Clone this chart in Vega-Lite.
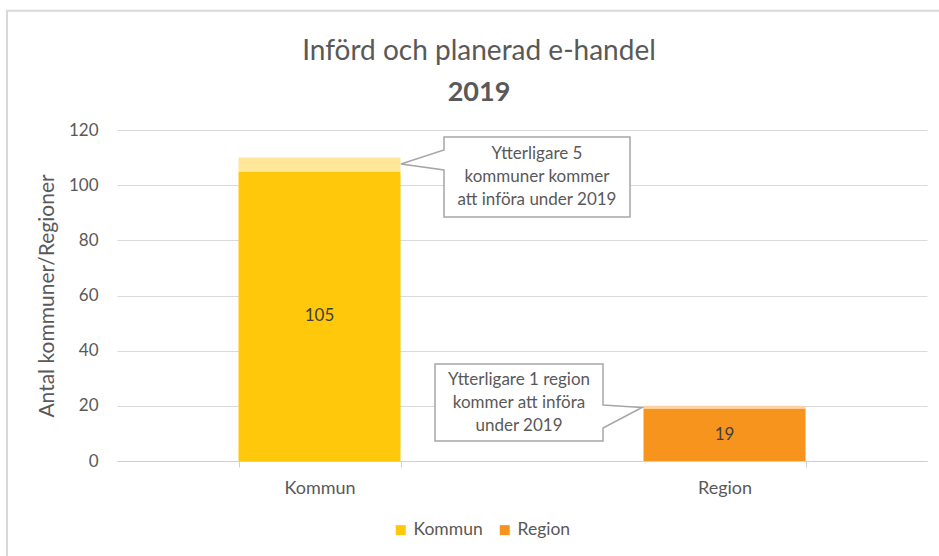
{
  "$schema": "https://vega.github.io/schema/vega-lite/v6.json",
  "width": 810,
  "height": 331,
  "autosize": {"type": "none"},
  "padding": {"left": 117, "top": 130, "right": 12, "bottom": 95},
  "background": "white",
  "config": {
    "view": {"stroke": null},
    "font": "Lato"
  },
  "title": {
    "text": "Införd och planerad e-handel",
    "subtitle": "2019",
    "frame": "group",
    "anchor": "middle",
    "dx": -43,
    "dy": 96,
    "offset": 0,
    "fontSize": 28,
    "fontWeight": "normal",
    "color": "#595959",
    "subtitleFontSize": 27,
    "subtitleFontWeight": "bold",
    "subtitleColor": "#595959",
    "subtitlePadding": 14
  },
  "datasets": {
    "staplar": [
      {"kategori": "Kommun", "del": "Kommun", "antal": 105, "ordning": 1},
      {"kategori": "Kommun", "del": "Kommun planerad", "antal": 5, "ordning": 2},
      {"kategori": "Region", "del": "Region", "antal": 19, "ordning": 1},
      {"kategori": "Region", "del": "Region planerad", "antal": 1, "ordning": 2}
    ],
    "ram": [{"x": -0.2716, "x2": 2.2, "y": 163.2, "y2": -40}],
    "rutor": [
      {"id": 1, "x": 0.8074, "x2": 1.2667, "y": 117.46, "y2": 88.46},
      {"id": 2, "x": 0.7852, "x2": 1.2, "y": 35.17, "y2": 7.25}
    ],
    "kilar": [
      {"id": 1, "x": 0.7012, "y": 107.68, "y2": 107.68},
      {"id": 1, "x": 0.8074, "y": 112.75, "y2": 105.5},
      {"id": 2, "x": 1.2, "y": 20.3, "y2": 11.96},
      {"id": 2, "x": 1.2963, "y": 19.4, "y2": 19.4}
    ],
    "konturer": [
      {"id": 1, "n": 1, "x": 0.8074, "y": 117.46},
      {"id": 1, "n": 2, "x": 1.2667, "y": 117.46},
      {"id": 1, "n": 3, "x": 1.2667, "y": 88.46},
      {"id": 1, "n": 4, "x": 0.8074, "y": 88.46},
      {"id": 1, "n": 5, "x": 0.8074, "y": 105.5},
      {"id": 1, "n": 6, "x": 0.7012, "y": 107.68},
      {"id": 1, "n": 7, "x": 0.8074, "y": 112.75},
      {"id": 1, "n": 8, "x": 0.8074, "y": 117.46},
      {"id": 2, "n": 1, "x": 0.7852, "y": 35.17},
      {"id": 2, "n": 2, "x": 1.2, "y": 35.17},
      {"id": 2, "n": 3, "x": 1.2, "y": 20.3},
      {"id": 2, "n": 4, "x": 1.2963, "y": 19.4},
      {"id": 2, "n": 5, "x": 1.2, "y": 11.96},
      {"id": 2, "n": 6, "x": 1.2, "y": 7.25},
      {"id": 2, "n": 7, "x": 0.7852, "y": 7.25},
      {"id": 2, "n": 8, "x": 0.7852, "y": 35.17}
    ],
    "texter": [
      {"x": 1.037, "y": 111.3, "text": "Ytterligare 5\nkommuner kommer\natt införa under 2019"},
      {"x": 0.9926, "y": 29.37, "text": "Ytterligare 1 region\nkommer att införa\nunder 2019"}
    ]
  },
  "layer": [
    {
      "layer": [
        {
          "data": {"name": "staplar"},
          "mark": {"type": "bar"},
          "encoding": {
            "x": {
              "field": "kategori", "type": "nominal", "sort": ["Kommun", "Region"],
              "scale": {"paddingInner": 0.6, "paddingOuter": 0.3},
              "axis": {
                "title": null, "labelAngle": 0, "tickBand": "extent",
                "domainColor": "#D0D0D0", "tickColor": "#D0D0D0", "tickSize": 6,
                "labelColor": "#595959", "labelFontSize": 18, "labelPadding": 12, "grid": false
              }
            },
            "y": {
              "field": "antal", "type": "quantitative", "stack": "zero",
              "scale": {"domain": [0, 120], "nice": false},
              "axis": {
                "title": "Antal kommuner/Regioner",
                "values": [0, 20, 40, 60, 80, 100, 120],
                "grid": true, "gridColor": "#D9D9D9", "domain": false,
                "ticks": false, "tickSize": 0, "labelPadding": 19,
                "labelColor": "#595959", "labelFontSize": 17,
                "titleColor": "#595959", "titleFontSize": 21, "titleFontWeight": "normal",
                "titleX": -69.5, "titleY": 165.5, "titleAngle": -90, "titleAlign": "center", "titleBaseline": "middle"
              }
            },
            "color": {
              "field": "del", "type": "nominal",
              "scale": {
                "domain": ["Kommun", "Kommun planerad", "Region", "Region planerad"],
                "range": ["#FFC80A", "#FFE699", "#F7941D", "#FBD3A3"]
              },
              "legend": {
                "values": ["Kommun", "Region"], "orient": "none", "legendX": 275, "legendY": 391,
                "direction": "horizontal", "title": null, "symbolType": "square", "symbolSize": 100,
                "labelFontSize": 17.5, "labelColor": "#595959", "columnPadding": 13, "labelOffset": 4,
                "symbolStrokeWidth": 0, "padding": 0
              }
            },
            "order": {"field": "ordning", "type": "quantitative"}
          }
        },
        {
          "data": {"name": "staplar"},
          "transform": [{"filter": "datum.ordning == 1"}],
          "mark": {"type": "text", "fontSize": 17, "color": "#404040", "baseline": "middle", "align": "center"},
          "encoding": {
            "x": {"field": "kategori", "type": "nominal", "sort": ["Kommun", "Region"], "scale": {"paddingInner": 0.6, "paddingOuter": 0.3}},
            "y": {"field": "antal", "type": "quantitative", "stack": "zero", "bandPosition": 0.5},
            "text": {"field": "antal", "type": "quantitative"}
          }
        }
      ]
    },
    {
      "layer": [
        {
          "data": {"name": "ram"},
          "mark": {"type": "rect", "filled": false, "stroke": "#D9D9D9", "strokeWidth": 2},
          "encoding": {
            "x": {"field": "x", "type": "quantitative", "scale": {"domain": [0, 2], "nice": false, "zero": false}, "axis": null},
            "x2": {"field": "x2"},
            "y": {"field": "y", "type": "quantitative", "scale": {"domain": [0, 120], "nice": false, "zero": false}, "axis": null},
            "y2": {"field": "y2"}
          }
        },
        {
          "data": {"name": "rutor"},
          "mark": {"type": "rect", "fill": "white", "stroke": null},
          "encoding": {
            "x": {"field": "x", "type": "quantitative", "scale": {"domain": [0, 2], "nice": false, "zero": false}, "axis": null},
            "x2": {"field": "x2"},
            "y": {"field": "y", "type": "quantitative", "scale": {"domain": [0, 120], "nice": false, "zero": false}, "axis": null},
            "y2": {"field": "y2"}
          }
        },
        {
          "data": {"name": "kilar"},
          "mark": {"type": "area", "fill": "white", "opacity": 1},
          "encoding": {
            "x": {"field": "x", "type": "quantitative", "scale": {"domain": [0, 2], "nice": false, "zero": false}, "axis": null},
            "y": {"field": "y", "type": "quantitative", "scale": {"domain": [0, 120], "nice": false, "zero": false}, "axis": null},
            "y2": {"field": "y2"},
            "detail": {"field": "id"}
          }
        },
        {
          "data": {"name": "konturer"},
          "mark": {"type": "line", "stroke": "#A6A6A6", "strokeWidth": 1.5, "strokeJoin": "miter", "strokeCap": "square"},
          "encoding": {
            "x": {"field": "x", "type": "quantitative", "scale": {"domain": [0, 2], "nice": false, "zero": false}, "axis": null},
            "y": {"field": "y", "type": "quantitative", "scale": {"domain": [0, 120], "nice": false, "zero": false}, "axis": null},
            "detail": {"field": "id"},
            "order": {"field": "n", "type": "quantitative"}
          }
        },
        {
          "data": {"name": "texter"},
          "mark": {"type": "text", "lineBreak": "\n", "fontSize": 17, "color": "#595959", "align": "center", "baseline": "middle", "lineHeight": 23},
          "encoding": {
            "x": {"field": "x", "type": "quantitative", "scale": {"domain": [0, 2], "nice": false, "zero": false}, "axis": null},
            "y": {"field": "y", "type": "quantitative", "scale": {"domain": [0, 120], "nice": false, "zero": false}, "axis": null},
            "text": {"field": "text"}
          }
        }
      ]
    }
  ],
  "resolve": {"scale": {"x": "independent", "y": "independent"}, "axis": {"x": "independent", "y": "independent"}}
}
